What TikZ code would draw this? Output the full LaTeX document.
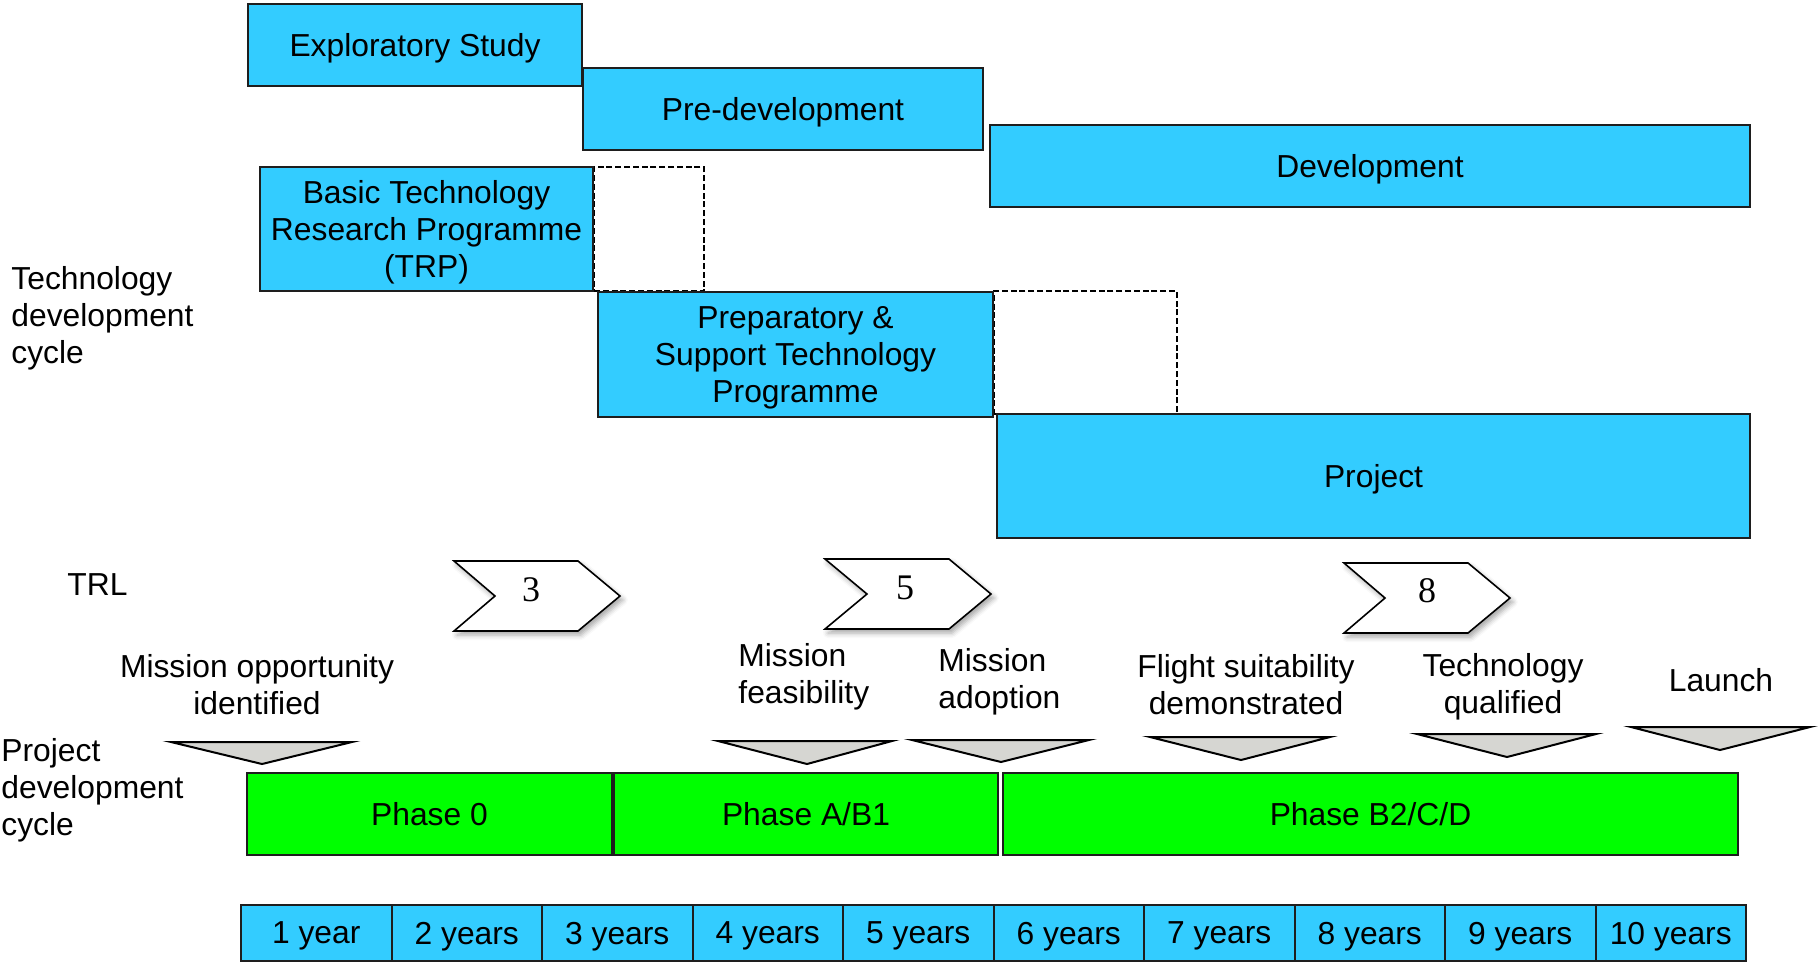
\documentclass[tikz,border=0pt]{standalone}
\usepackage{fontspec}
\setmainfont{Liberation Sans}
\newfontfamily\numfont{Liberation Serif}
\usetikzlibrary{fit,shadows.blur}
\definecolor{skyblue}{HTML}{33CCFF}
\definecolor{phasegreen}{HTML}{00FF00}
\definecolor{milegray}{HTML}{D6D6D2}
\definecolor{edge}{HTML}{1E1E1E}

\begin{document}
\begin{tikzpicture}[x=0.5pt,y=-0.5pt,
  every node/.style={font=\fontsize{15.9}{18.6}\selectfont},
  every label/.style={align=center, inner sep=0pt},
  bar/.style={draw=edge, line width=1pt, fill=skyblue, inner sep=0pt},
  bartext/.style={yshift=-1.7pt},
  phase/.style={draw=edge, line width=1pt, fill=phasegreen, inner sep=0pt},
  yearcell/.style={draw=edge, line width=1pt, fill=skyblue, minimum width=75.25pt,
    minimum height=28pt, anchor=north west, text depth=0pt},
  overlap/.style={draw=black, line width=0.7pt, dash pattern=on 3pt off 1.4pt, inner sep=0pt},
  chevron/.style={draw=black, line width=0.8pt, fill=white, line join=miter,
    blur shadow={shadow xshift=1.5pt, shadow yshift=-2pt, shadow blur radius=2.5pt, shadow opacity=35}},
  trlnum/.style={font=\numfont\fontsize{18}{20}\selectfont, inner sep=0pt},
  milestone/.style={draw=black, line width=1pt, fill=milegray, line join=miter},
  caption/.style={inner sep=0pt},
  sidelabel/.style={inner sep=0pt, align=left, anchor=west},
]
\useasboundingbox (0,0) rectangle (1819,966);

% hand-over windows between consecutive programmes
\node[overlap, fit={(594,167) (704,291)}] (gap1) {};
\node[overlap, fit={(994,291) (1177,414)}] (gap2) {};

% technology development cycle
\node[bar, fit={(248,4) (582,86)}, label={[bartext]center:{Exploratory Study}}] (es) {};
\node[bar, fit={(583,68) (983,150)}, label={[bartext]center:{Pre-development}}] (pre) {};
\node[bar, fit={(990,125) (1750,207)}, label={[bartext]center:{Development}}] (dev) {};
\node[bar, fit={(260,167) (593,291)}, label={[bartext]center:{Basic Technology\\Research Programme\\(TRP)}}] (trp) {};
\node[bar, fit={(598,292) (993,417)}, label={[bartext]center:{Preparatory \&\\Support Technology\\Programme}}] (pstp) {};
\node[bar, fit={(997,414) (1750,538)}, label={[bartext]center:{Project}}] (proj) {};

% row captions
\node[sidelabel] (techcycle) at (11,318) {Technology\\development\\cycle};
\node[sidelabel] (trl) at (67,585) {TRL};
\node[sidelabel] (projcycle) at (1,790) {Project\\development\\cycle};

% technology readiness levels
\draw[chevron] (454,561) -- (578,561) -- (620,596) -- (578,631) -- (454,631) -- (495,596) -- cycle;
\node[trlnum] (trl3) at (531,590) {3};
\draw[chevron] (825,559) -- (949,559) -- (991,594) -- (949,629) -- (825,629) -- (867,594) -- cycle;
\node[trlnum] (trl5) at (905,588) {5};
\draw[chevron] (1344,563) -- (1468,563) -- (1510,598) -- (1468,633) -- (1344,633) -- (1385,598) -- cycle;
\node[trlnum] (trl8) at (1427,591) {8};

% milestones
\node[caption, align=center] (opp) at (257,685) {Mission opportunity\\identified};
\node[caption, align=left, anchor=west] (feas) at (738,677) {Mission\\feasibility};
\node[caption, align=left, anchor=west] (adopt) at (938,682) {Mission\\adoption};
\node[caption, align=center] (flight) at (1246,685) {Flight suitability\\demonstrated};
\node[caption, align=center] (qual) at (1503,687) {Technology\\qualified};
\node[caption] (launch) at (1721,680) {Launch};

\draw[milestone] (171,742) -- (352,742) -- (262,764) -- cycle;
\draw[milestone] (718,741) -- (892,741) -- (807,764) -- cycle;
\draw[milestone] (912,740) -- (1089,740) -- (1001,762) -- cycle;
\draw[milestone] (1150,737) -- (1330,737) -- (1241,760) -- cycle;
\draw[milestone] (1417,734) -- (1596,734) -- (1507,757) -- cycle;
\draw[milestone] (1631,727) -- (1810,727) -- (1720,750) -- cycle;

% project phases
\node[phase, fit={(247,773) (612,855)}, label=center:{Phase 0}] (ph0) {};
\node[phase, fit={(614,773) (998,855)}, label=center:{Phase A/B1}] (phab) {};
\node[phase, fit={(1003,773) (1738,855)}, label=center:{Phase B2/C/D}] (phbcd) {};

% time scale
\foreach \i in {1,...,10} {
  \pgfmathsetmacro\xx{240+(\i-1)*150.5}
  \node[yearcell] (yr\i) at (\xx,904) {\i~year\ifnum\i>1 s\fi};
}
\end{tikzpicture}
\end{document}
